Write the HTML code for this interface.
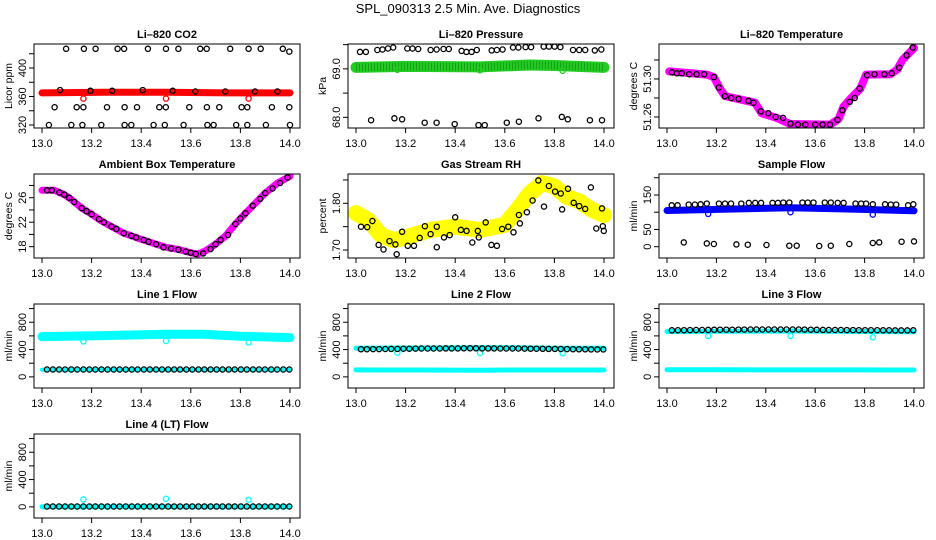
<!DOCTYPE html>
<html><head><meta charset="utf-8">
<style>
html,body{margin:0;padding:0;background:#fff;}
svg{display:block;font-family:"Liberation Sans",sans-serif;}
</style></head>
<body>
<svg id="chart" width="936" height="540" viewBox="0 0 936 540" xmlns="http://www.w3.org/2000/svg">
<rect x="0" y="0" width="936" height="540" fill="#fff"/>
<text x="468" y="13" font-size="13" text-anchor="middle">SPL_090313  2.5 Min. Ave. Diagnostics</text>
</svg>
<script>
// ---------- data ----------
const xTicks = [13.0, 13.2, 13.4, 13.6, 13.8, 14.0];
const xTickLabels = ["13.0", "13.2", "13.4", "13.6", "13.8", "14.0"];

// CO2
const co2BandT = [13.0, 13.25, 13.5, 13.75, 14.0];
const co2BandV = [365, 366, 366, 365, 365];
const co2RedOutT = [13.167, 13.5, 13.833];
const co2RedOutV = [357, 357, 357];
const co2BlackT = [13.097,13.169,13.216,13.305,13.331,13.427,13.5,13.55,13.638,13.664,13.759,13.833,13.882,13.971,13.997,
  13.051,13.14,13.167,13.262,13.333,13.383,13.473,13.499,13.594,13.665,13.715,13.805,13.828,13.927,13.997,
  13.028,13.118,13.163,13.239,13.333,13.36,13.45,13.495,13.571,13.667,13.692,13.783,13.828,13.903,14.0,
  13.073,13.195,13.283,13.406,13.527,13.618,13.739,13.859,13.949];
const co2BlackV = [427,427,427,427,427,427,427,427,427,427,427,427,427,427,423,
  345,345,345,345,345,345,345,345,345,345,345,345,345,345,345,
  320,320,320,320,320,320,320,320,320,320,320,320,320,320,320,
  369,368,368,369,368,367,367,367,367];

// Pressure
const presBandT = [13.0, 13.2, 13.5, 13.7, 13.8, 14.0];
const presBandV = [69.03, 69.05, 69.04, 69.08, 69.07, 69.03];
const presOutT = [13.167, 13.5, 13.833];
const presOutV = [68.98, 68.97, 68.96];
const presTopT = [13.016,13.04,13.086,13.107,13.129,13.15,13.207,13.228,13.251,13.301,13.325,13.353,13.374,13.426,13.445,13.466,13.487,13.547,13.568,13.591,13.633,13.655,13.684,13.706,13.757,13.778,13.801,13.824,13.875,13.9,13.924,13.963,13.989];
const presTopV = [69.35,69.35,69.39,69.40,69.42,69.44,69.42,69.42,69.41,69.39,69.40,69.41,69.41,69.37,69.35,69.35,69.39,69.38,69.39,69.40,69.44,69.44,69.45,69.45,69.46,69.46,69.46,69.45,69.39,69.39,69.39,69.38,69.40];
const presLowT = [13.061,13.155,13.186,13.277,13.325,13.398,13.494,13.519,13.608,13.657,13.736,13.83,13.854,13.943,13.992];
const presLowV = [67.94,67.98,67.96,67.89,67.89,67.86,67.84,67.84,67.89,67.91,67.98,68.01,67.96,67.94,67.94];

// Li-820 temperature
const tempBandT = [13.009,13.161,13.19,13.213,13.235,13.322,13.356,13.383,13.444,13.498,13.661,13.695,13.715,13.742,13.783,13.806,13.905,13.932,13.953,14.0];
const tempBandV = [51.308,51.3046,51.302,51.2905,51.282,51.277,51.275,51.264,51.259,51.2526,51.252,51.258,51.271,51.279,51.290,51.3046,51.305,51.31,51.32,51.3326];
const tempBlackT = [13.02,13.04,13.06,13.09,13.12,13.15,13.19,13.21,13.235,13.26,13.29,13.33,13.35,13.38,13.41,13.44,13.47,13.5,13.53,13.56,13.6,13.63,13.66,13.69,13.71,13.74,13.76,13.78,13.81,13.84,13.88,13.91,13.94,13.97,13.995];
const tempBlackV = [51.307,51.306,51.306,51.305,51.305,51.305,51.302,51.291,51.282,51.280,51.279,51.277,51.275,51.266,51.264,51.260,51.259,51.253,51.252,51.252,51.252,51.252,51.252,51.257,51.267,51.276,51.280,51.290,51.304,51.305,51.305,51.306,51.312,51.325,51.333];

// Ambient box temperature
const ambT = [13.0,13.05,13.07,13.09,13.12,13.16,13.2,13.24,13.28,13.33,13.4,13.45,13.5,13.55,13.6,13.63,13.66,13.7,13.74,13.78,13.82,13.86,13.9,13.95,14.0];
const ambV = [27.2,27.2,26.85,26.5,25.65,24.3,23.3,22.2,21.3,20.2,19.2,18.55,17.9,17.55,17.0,16.8,17.35,18.4,19.75,21.7,23.45,25.1,26.75,28.4,29.5];
const ambBlackT = [13.02,13.04,13.07,13.09,13.11,13.13,13.16,13.18,13.2,13.23,13.25,13.28,13.3,13.33,13.36,13.38,13.41,13.43,13.46,13.49,13.52,13.55,13.58,13.6,13.62,13.65,13.68,13.7,13.72,13.75,13.78,13.8,13.82,13.85,13.88,13.9,13.93,13.96,13.99];
const ambBlackV = [27.2,27.2,26.85,26.5,26.0,25.3,24.3,23.8,23.3,22.5,22.0,21.3,20.9,20.2,19.8,19.5,19.1,18.8,18.4,17.9,17.7,17.5,17.2,17.0,16.8,16.9,17.6,18.4,19.1,19.9,21.7,22.6,23.45,24.7,25.8,26.75,27.5,28.4,29.3];

// Gas stream RH
const rhBandT = [13.0,13.05,13.1,13.15,13.2,13.3,13.4,13.5,13.6,13.65,13.7,13.75,13.8,13.85,13.9,13.95,14.0];
const rhBandV = [1.779,1.764,1.732,1.721,1.727,1.743,1.750,1.743,1.754,1.786,1.821,1.843,1.836,1.814,1.804,1.786,1.775];
const rhBlackT = [13.020,13.045,13.066,13.091,13.111,13.135,13.159,13.164,13.186,13.209,13.234,13.257,13.278,13.301,13.326,13.326,13.355,13.378,13.4,13.423,13.446,13.469,13.491,13.495,13.523,13.546,13.568,13.589,13.614,13.635,13.657,13.661,13.689,13.712,13.735,13.758,13.778,13.803,13.826,13.831,13.855,13.878,13.9,13.924,13.947,13.969,13.992,13.995,13.999];
const rhBlackV = [1.750,1.749,1.762,1.711,1.701,1.719,1.712,1.691,1.739,1.709,1.709,1.726,1.751,1.734,1.750,1.706,1.727,1.732,1.770,1.743,1.741,1.716,1.741,1.727,1.759,1.711,1.709,1.745,1.750,1.738,1.775,1.757,1.781,1.806,1.849,1.793,1.837,1.825,1.821,1.787,1.831,1.801,1.794,1.788,1.834,1.746,1.789,1.751,1.741];

// Sample flow
const sampBandT = [13.0, 13.25, 13.5, 13.75, 14.0];
const sampBandV = [105, 109, 113, 109, 104];
const sampOutT = [13.167, 13.5, 13.833];
const sampOutV = [95, 100, 93];
const sampTopT = [13.019,13.043,13.088,13.113,13.136,13.161,13.21,13.235,13.259,13.301,13.331,13.357,13.381,13.427,13.449,13.471,13.495,13.548,13.57,13.593,13.639,13.663,13.691,13.715,13.763,13.786,13.806,13.833,13.883,13.906,13.928,13.976,13.997];
const sampTopV = [120,120,122,122,123,125,125,125,125,125,127,127,127,127,127,128,128,128,128,128,128,128,127,127,125,125,125,123,123,122,122,120,123];
const sampLowT = [13.068,13.161,13.19,13.281,13.327,13.403,13.495,13.525,13.616,13.663,13.738,13.833,13.859,13.95,14.0];
const sampLowV = [12.5,9.6,7.7,6.7,5.8,4.8,2.9,2.9,1.9,2.9,7.7,10.6,12.5,14.4,15.4];

// Line flows (shared 2.5-min average times)
const flowT = [13.020,13.044,13.069,13.093,13.118,13.142,13.167,13.191,13.215,13.240,13.264,13.289,13.313,13.338,13.362,13.386,13.411,13.435,13.460,13.484,13.509,13.533,13.557,13.582,13.606,13.631,13.655,13.680,13.704,13.728,13.753,13.777,13.802,13.826,13.851,13.875,13.899,13.924,13.948,13.973,13.997];
const line1Black = [108,108,108,108,108,108,108,108,108,108,108,108,108,108,108,108,108,108,108,108,108,108,108,108,108,108,108,108,108,108,108,108,108,108,108,108,108,108,108,108,108];
const line2Black = [405,405,406,407,408,409,410,412,413,414,415,415,416,416,417,417,417,418,418,418,417,417,417,416,416,416,415,414,413,412,411,410,409,408,406,405,404,403,402,402,402];
const line3Black = [682,683,684,685,686,687,688,689,690,690,691,692,692,693,693,693,694,694,694,694,694,693,692,690,689,688,687,686,686,685,685,684,684,683,683,682,682,681,681,681,682];
const line4Black = [5,5,5,5,5,5,5,5,5,5,5,5,5,5,5,5,5,5,5,5,5,5,5,5,5,5,5,5,5,5,5,5,5,5,5,5,5,5,5,5,5];
const line1BandT = [13.0, 13.25, 13.5, 13.65, 13.8, 14.0];
const line1HighV = [590, 605, 625, 625, 595, 575];
const line1LowV = [105, 105, 105, 105, 105, 105];
const line2HighV = [420, 422, 425, 425, 420, 418];
const line2LowV = [102, 100, 98, 100, 101, 100];
const line3HighV = [665, 668, 672, 668, 665, 662];
const line3LowV = [105, 103, 102, 102, 102, 100];
const line4V = [2, 2, 2, 2, 2, 2];
const outT = [13.167, 13.5, 13.833];
const line1OutV = [520, 525, 505];
const line2OutV = [355, 350, 345];
const line3OutV = [600, 600, 580];
const line4OutV = [110, 120, 105];

// ---------- layout ----------
const colT13 = [42, 356, 667];
const colT14 = [290, 604, 914];
const rowTop = [44, 174, 304, 434];
const boxH = 84;
const svg = document.getElementById('chart');
const NS = 'http://www.w3.org/2000/svg';
function mk(tag, attrs, parent) {
  const e = document.createElementNS(NS, tag);
  for (const k in attrs) e.setAttribute(k, attrs[k]);
  (parent || svg).appendChild(e);
  return e;
}

function panel(cfg) {
  const g = mk('g', {});
  
  
  const x0 = colT13[cfg.col], x1 = colT14[cfg.col];
  const top = rowTop[cfg.row], bot = top + boxH;
  const left = x0 - 8, right = x1 + 10;
  const sx = t => x0 + (t - 13) * (x1 - x0);
  const sy = v => bot - (v - cfg.ymin) / (cfg.ymax - cfg.ymin) * boxH;
  const clip = 'clip-' + cfg.name;
  const cp = mk('clipPath', {id: clip}, g);
  mk('rect', {x: left, y: top, width: right - left, height: boxH}, cp);
  const plot = mk('g', {'clip-path': 'url(#' + clip + ')'}, g);

  (cfg.bands || []).forEach(b => {
    const pts = b.t.map((t, i) => sx(t).toFixed(1) + ',' + sy(b.v[i]).toFixed(1)).join(' ');
    const pl = mk('polyline', {points: pts, fill: 'none', stroke: b.color, 'stroke-width': b.w, 'stroke-linecap': 'round', 'stroke-linejoin': 'round'}, plot);
    
    
    if (b.hatch) {
      const pl2 = mk('polyline', {points: pts, fill: 'none', stroke: b.hatch, 'stroke-width': b.w - 3, 'stroke-dasharray': '1 2', 'stroke-linecap': 'butt', opacity: 0.35}, plot);
      
      
    }
  });
  (cfg.points || []).forEach(p => {
    p.t.forEach((t, i) => {
      const c = mk('circle', {cx: sx(t).toFixed(1), cy: sy(p.v[i]).toFixed(1), r: 2.6, fill: 'none', stroke: p.color, 'stroke-width': 1.3}, plot);
      
      
    });
  });

  const box = mk('rect', {x: left, y: top, width: right - left, height: boxH, fill: 'none', stroke: '#000', 'stroke-width': 1}, g);
  
  
  const ti = mk('text', {x: (left + right) / 2, y: top - 6, 'font-size': 11, 'font-weight': 'bold', 'text-anchor': 'middle'}, g);
  ti.textContent = cfg.title;
  
  
  const xa = mk('g', {}, g);
  
  
  xTicks.forEach((t, i) => {
    mk('line', {x1: sx(t), x2: sx(t), y1: bot, y2: bot + 5, stroke: '#000'}, xa);
    const tl = mk('text', {x: sx(t), y: bot + 19, 'font-size': 11, 'text-anchor': 'middle'}, xa);
    tl.textContent = xTickLabels[i];
    
    
  });
  const ya = mk('g', {}, g);
  
  
  const ax = left;
  cfg.yTicks.forEach((v, i) => {
    mk('line', {x1: ax, x2: ax - 5, y1: sy(v), y2: sy(v), stroke: '#000'}, ya);
    if (cfg.yLabels[i]) {
      const yl = mk('text', {x: 0, y: 0, 'font-size': 11, 'text-anchor': 'middle', transform: 'translate(' + (ax - 8) + ',' + sy(v) + ') rotate(-90)'}, ya);
      yl.textContent = cfg.yLabels[i];
      
      
    }
  });
  const yt = mk('text', {x: 0, y: 0, 'font-size': 10.5, 'text-anchor': 'middle', transform: 'translate(' + (ax - 22) + ',' + (top + boxH / 2) + ') rotate(-90)'}, ya);
  yt.textContent = cfg.ylab;
  
  
}

const flowTicks = [0, 200, 400, 600, 800, 1000];
const flowLabels = ['0', '', '400', '', '800', ''];

panel({name: 'co2-panel', title: 'Li\u2013820 CO2', col: 0, row: 0, ymin: 315.8, ymax: 433.7, ylab: 'Licor ppm',
  yTicks: [320, 340, 360, 380, 400, 420], yLabels: ['320', '', '360', '', '400', ''],
  bands: [{name: 'co2-band', t: co2BandT, v: co2BandV, color: '#ff0000', w: 7}],
  points: [{name: 'co2-red-point', t: co2RedOutT, v: co2RedOutV, color: '#ff0000'},
           {name: 'co2-avg-point', t: co2BlackT, v: co2BlackV, color: '#000'}]});

panel({name: 'pressure-panel', title: 'Li\u2013820 Pressure', col: 1, row: 0, ymin: 67.78, ymax: 69.513, ylab: 'kPa',
  yTicks: [68.0, 68.5, 69.0, 69.5], yLabels: ['68.0', '', '69.0', ''],
  bands: [{name: 'pressure-band', t: presBandT, v: presBandV, color: '#22cc22', w: 11, hatch: '#004400'}],
  points: [{name: 'pressure-out-point', t: presOutT, v: presOutV, color: '#22cc22'},
           {name: 'pressure-avg-point', t: presTopT, v: presTopV, color: '#000'},
           {name: 'pressure-avg-point', t: presLowT, v: presLowV, color: '#000'}]});

panel({name: 'li820-temp-panel', title: 'Li\u2013820 Temperature', col: 2, row: 0, ymin: 51.2484, ymax: 51.3368, ylab: 'degrees C',
  yTicks: [51.26, 51.28, 51.30, 51.32], yLabels: ['51.26', '', '51.30', ''],
  bands: [{name: 'li820-temp-band', t: tempBandT, v: tempBandV, color: '#ff00ff', w: 8}],
  points: [{name: 'li820-temp-avg-point', t: tempBlackT, v: tempBlackV, color: '#000'}]});

panel({name: 'ambient-temp-panel', title: 'Ambient Box Temperature', col: 0, row: 1, ymin: 16.15, ymax: 29.87, ylab: 'degrees C',
  yTicks: [18, 20, 22, 24, 26, 28], yLabels: ['18', '', '22', '', '26', ''],
  bands: [{name: 'ambient-temp-band', t: ambT, v: ambV, color: '#ff00ff', w: 7}],
  points: [{name: 'ambient-temp-avg-point', t: ambBlackT, v: ambBlackV, color: '#000'}]});

panel({name: 'rh-panel', title: 'Gas Stream RH', col: 1, row: 1, ymin: 1.6829, ymax: 1.8627, ylab: 'percent',
  yTicks: [1.70, 1.75, 1.80, 1.85], yLabels: ['1.70', '', '1.80', ''],
  bands: [{name: 'rh-band', t: rhBandT, v: rhBandV, color: '#ffff00', w: 16}],
  points: [{name: 'rh-avg-point', t: rhBlackT, v: rhBlackV, color: '#000'}]});

panel({name: 'sample-flow-panel', title: 'Sample Flow', col: 2, row: 1, ymin: -32.8, ymax: 210.9, ylab: 'ml/min',
  yTicks: [0, 50, 100, 150, 200], yLabels: ['0', '50', '', '150', ''],
  bands: [{name: 'sample-flow-band', t: sampBandT, v: sampBandV, color: '#0000ff', w: 7}],
  points: [{name: 'sample-flow-out-point', t: sampOutT, v: sampOutV, color: '#0000ff'},
           {name: 'sample-flow-avg-point', t: sampTopT, v: sampTopV, color: '#000'},
           {name: 'sample-flow-avg-point', t: sampLowT, v: sampLowV, color: '#000'}]});

panel({name: 'line1-flow-panel', title: 'Line 1 Flow', col: 0, row: 2, ymin: -163, ymax: 1067, ylab: 'ml/min',
  yTicks: flowTicks, yLabels: flowLabels,
  bands: [{name: 'line1-high-band', t: line1BandT, v: line1HighV, color: '#00ffff', w: 9},
          {name: 'line1-low-band', t: line1BandT, v: line1LowV, color: '#00ffff', w: 4}],
  points: [{name: 'line1-out-point', t: outT, v: line1OutV, color: '#00ffff'},
           {name: 'line1-avg-point', t: flowT, v: line1Black, color: '#000'}]});

panel({name: 'line2-flow-panel', title: 'Line 2 Flow', col: 1, row: 2, ymin: -163, ymax: 1067, ylab: 'ml/min',
  yTicks: flowTicks, yLabels: flowLabels,
  bands: [{name: 'line2-high-band', t: line1BandT, v: line2HighV, color: '#00ffff', w: 5},
          {name: 'line2-low-band', t: line1BandT, v: line2LowV, color: '#00ffff', w: 5}],
  points: [{name: 'line2-out-point', t: outT, v: line2OutV, color: '#00ffff'},
           {name: 'line2-avg-point', t: flowT, v: line2Black, color: '#000'}]});

panel({name: 'line3-flow-panel', title: 'Line 3 Flow', col: 2, row: 2, ymin: -163, ymax: 1067, ylab: 'ml/min',
  yTicks: flowTicks, yLabels: flowLabels,
  bands: [{name: 'line3-high-band', t: line1BandT, v: line3HighV, color: '#00ffff', w: 5},
          {name: 'line3-low-band', t: line1BandT, v: line3LowV, color: '#00ffff', w: 5}],
  points: [{name: 'line3-out-point', t: outT, v: line3OutV, color: '#00ffff'},
           {name: 'line3-avg-point', t: flowT, v: line3Black, color: '#000'}]});

panel({name: 'line4-flow-panel', title: 'Line 4 (LT) Flow', col: 0, row: 3, ymin: -163, ymax: 1067, ylab: 'ml/min',
  yTicks: flowTicks, yLabels: flowLabels,
  bands: [{name: 'line4-band', t: line1BandT, v: line4V, color: '#00ffff', w: 5}],
  points: [{name: 'line4-out-point', t: outT, v: line4OutV, color: '#00ffff'},
           {name: 'line4-avg-point', t: flowT, v: line4Black, color: '#000'}]});
</script>
</body></html>
